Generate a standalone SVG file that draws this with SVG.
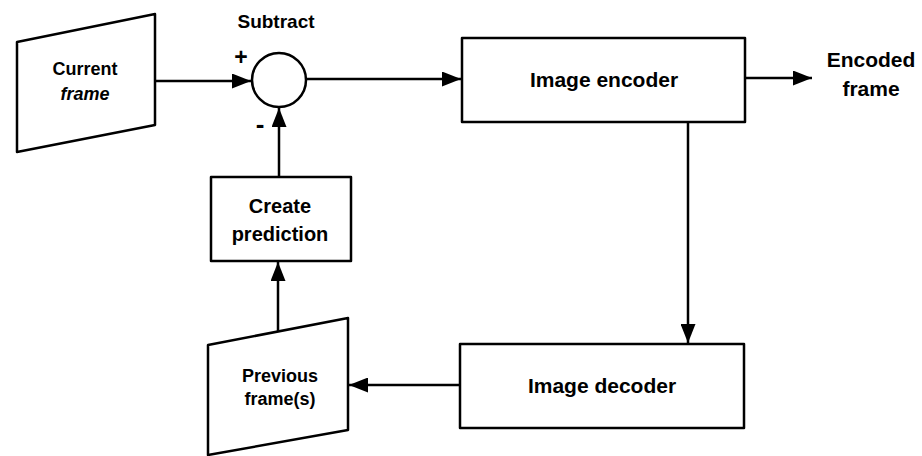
<svg xmlns="http://www.w3.org/2000/svg" width="922" height="456" viewBox="0 0 922 456">
  <style>
    .shape { fill: #ffffff; stroke: #000000; stroke-width: 2.5; stroke-linejoin: round; }
    .wire { fill: none; stroke: #000000; stroke-width: 2.5; }
    .label { font-family: "Liberation Sans", Arial, sans-serif; font-weight: bold; fill: #000000; text-anchor: middle; }
  </style>
  <defs>
    <marker id="arrow" markerUnits="userSpaceOnUse" markerWidth="19" markerHeight="15" refX="19" refY="7.5" orient="auto">
      <path d="M0,0 L19,7.5 L0,15 z" fill="#000000"/>
    </marker>
  </defs>

  <!-- connectors -->
  <g id="connectors">
    <line class="wire" x1="155" y1="81" x2="251" y2="81" marker-end="url(#arrow)"/>
    <line class="wire" x1="306" y1="79" x2="461" y2="79" marker-end="url(#arrow)"/>
    <line class="wire" x1="745" y1="78" x2="812" y2="78" marker-end="url(#arrow)"/>
    <line class="wire" x1="688" y1="122" x2="688" y2="343" marker-end="url(#arrow)"/>
    <line class="wire" x1="460" y1="385" x2="349" y2="385" marker-end="url(#arrow)"/>
    <line class="wire" x1="278" y1="332" x2="278" y2="262" marker-end="url(#arrow)"/>
    <line class="wire" x1="279" y1="177" x2="279" y2="108" marker-end="url(#arrow)"/>
  </g>

  <!-- input frame -->
  <g id="current-frame">
    <polygon class="shape" points="17,42 155,14 155,125 17,152"/>
    <text class="label" x="85" y="75" font-size="18">Current</text>
    <text class="label" x="85" y="100" font-size="18" font-style="italic">frame</text>
  </g>

  <!-- subtractor -->
  <g id="subtract">
    <circle class="shape" cx="279" cy="80" r="27"/>
    <text class="label" x="276" y="28" font-size="19">Subtract</text>
    <text class="label" x="241" y="65" font-size="23">+</text>
    <text class="label" x="260" y="133" font-size="26">-</text>
  </g>

  <g id="image-encoder">
    <rect class="shape" x="462" y="38" width="283" height="84"/>
    <text class="label" x="604" y="87" font-size="21">Image encoder</text>
  </g>

  <g id="encoded-frame">
    <text class="label" x="871" y="67" font-size="21">Encoded</text>
    <text class="label" x="871" y="96" font-size="21">frame</text>
  </g>

  <g id="image-decoder">
    <rect class="shape" x="460" y="344" width="284" height="84"/>
    <text class="label" x="602" y="393" font-size="21">Image decoder</text>
  </g>

  <g id="create-prediction">
    <rect class="shape" x="211" y="177" width="140" height="84"/>
    <text class="label" x="280" y="213" font-size="20">Create</text>
    <text class="label" x="280" y="241" font-size="20">prediction</text>
  </g>

  <g id="previous-frames">
    <polygon class="shape" points="208,345 348,318 348,430 208,455"/>
    <text class="label" x="280" y="382" font-size="18">Previous</text>
    <text class="label" x="280" y="405" font-size="18">frame(s)</text>
  </g>
</svg>
